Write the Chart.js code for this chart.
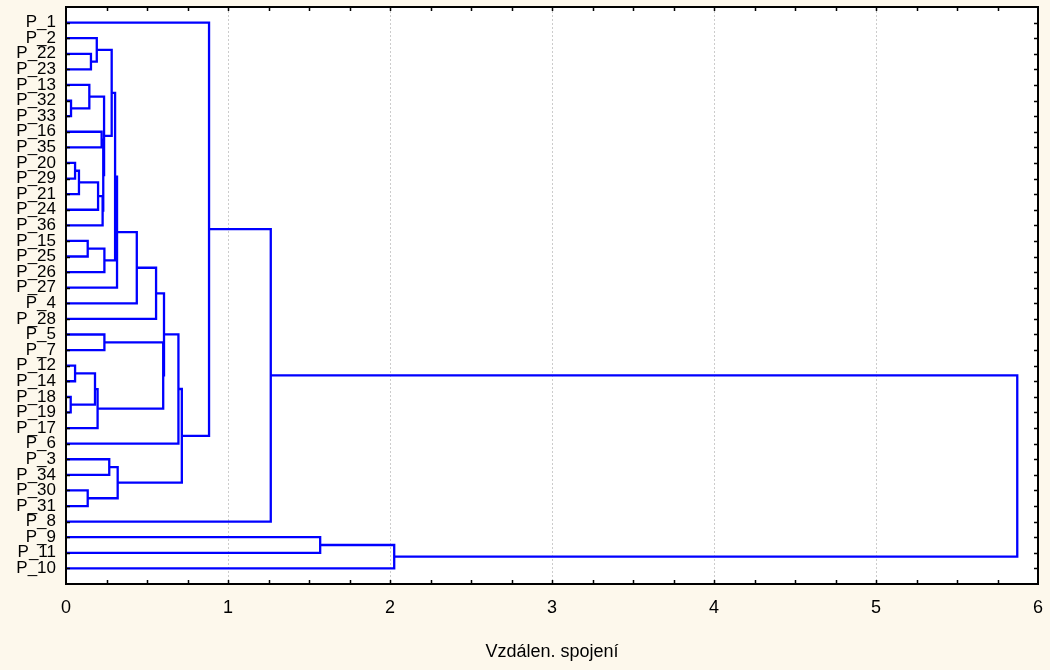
<!DOCTYPE html>
<html>
<head>
<meta charset="utf-8">
<script src="https://cdn.jsdelivr.net/npm/chart.js@4.4.1/dist/chart.umd.min.js"></script>
<style>
  html, body { margin: 0; padding: 0; background: #fdf8ec; }
  canvas { display: block; }
</style>
</head>
<body>
<canvas id="dendroChart" width="1050" height="670"></canvas>
<script>
// Leaves, top to bottom as they appear on the vertical axis
const leaves = ['P_1', 'P_2', 'P_22', 'P_23', 'P_13', 'P_32', 'P_33', 'P_16', 'P_35',
  'P_20', 'P_29', 'P_21', 'P_24', 'P_36', 'P_15', 'P_25', 'P_26', 'P_27', 'P_4', 'P_28',
  'P_5', 'P_7', 'P_12', 'P_14', 'P_18', 'P_19', 'P_17', 'P_6', 'P_3', 'P_34', 'P_30',
  'P_31', 'P_8', 'P_9', 'P_11', 'P_10'];

// Joins in order; 'cN' means the cluster created by join N
const linkLeft = ['P_32', 'P_18', 'P_20', 'P_12', 'c2', 'P_15', 'P_30', 'P_13', 'P_22', 'c3',
  'P_2', 'c9', 'c4', 'P_16', 'c12', 'c13', 'c7', 'c5', 'P_5', 'P_3',
  'c10', 'c20', 'c21', 'c19', 'c22', 'c24', 'c18', 'c25', 'c27', 'c28',
  'P_1', 'c30', 'P_9', 'c32', 'c31'];
const linkRight = ['P_33', 'P_19', 'P_29', 'P_14', 'P_21', 'P_25', 'P_31', 'c0', 'P_23', 'c1',
  'c8', 'P_17', 'P_24', 'P_35', 'P_36', 'c14', 'c15', 'P_26', 'P_7', 'P_34',
  'c16', 'c17', 'P_27', 'c6', 'P_4', 'P_28', 'c11', 'c26', 'P_6', 'c23',
  'c29', 'P_8', 'P_11', 'P_10', 'c33'];
const linkDist = [0.031, 0.029, 0.056, 0.056, 0.08, 0.134, 0.134, 0.144, 0.154, 0.179,
  0.19, 0.195, 0.198, 0.22, 0.226, 0.23, 0.235, 0.237, 0.237, 0.267,
  0.282, 0.303, 0.315, 0.319, 0.437, 0.556, 0.6, 0.605, 0.694, 0.715,
  0.883, 1.264, 1.569, 2.026, 5.872];

const xTicks = [0, 1, 2, 3, 4, 5, 6];
const xTitle = 'Vzdálen. spojení';

const LINE = '#0000ff';
const FONT = "'Liberation Sans', Arial, sans-serif";

// build the U-shaped links from the joins
const nodePos = {};
leaves.forEach(function (name, i) { nodePos[name] = { x: 0, y: i }; });

const datasets = linkDist.map(function (d, k) {
  const a = nodePos[linkLeft[k]];
  const b = nodePos[linkRight[k]];
  nodePos['c' + k] = { x: d, y: (a.y + b.y) / 2 };
  return {
    data: [{ x: a.x, y: a.y }, { x: d, y: a.y }, { x: d, y: b.y }, { x: b.x, y: b.y }],
    showLine: true,
    borderColor: LINE,
    borderWidth: 2.3,
    pointRadius: 0,
    tension: 0,
    fill: false
  };
});

// cream page, white plot, black frame with small inward ticks
const framePlugin = {
  id: 'frame',
  beforeDraw(chart) {
    const c = chart.ctx, a = chart.chartArea;
    c.save();
    c.fillStyle = '#fdf8ec';
    c.fillRect(0, 0, chart.width, chart.height);
    c.fillStyle = '#ffffff';
    c.fillRect(a.left, a.top, a.right - a.left, a.bottom - a.top);
    c.restore();
  },
  afterDraw(chart) {
    const c = chart.ctx, a = chart.chartArea;
    const xs = chart.scales.x, ys = chart.scales.y;
    c.save();
    c.strokeStyle = '#000';
    c.lineWidth = 1.5;
    c.beginPath();
    leaves.forEach(function (_, i) {
      const py = Math.round(ys.getPixelForValue(i)) + 0.5;
      c.moveTo(a.left, py); c.lineTo(a.left + 4, py);
      c.moveTo(a.right, py); c.lineTo(a.right - 4, py);
    });
    for (let v = 0.25; v < 6; v += 0.25) {
      const px = Math.round(xs.getPixelForValue(v)) + 0.5;
      c.moveTo(px, a.bottom); c.lineTo(px, a.bottom - 4);
      c.moveTo(px, a.top); c.lineTo(px, a.top + 4);
    }
    c.stroke();
    c.lineWidth = 2;
    c.strokeRect(a.left, a.top, a.right - a.left, a.bottom - a.top);
    c.restore();
  }
};

new Chart(document.getElementById('dendroChart'), {
  type: 'scatter',
  data: { datasets: datasets },
  plugins: [framePlugin],
  options: {
    responsive: false,
    animation: false,
    layout: { padding: { top: 7, right: 12, bottom: 0, left: 0 } },
    plugins: {
      legend: { display: false },
      tooltip: { enabled: false }
    },
    scales: {
      x: {
        type: 'linear',
        min: 0,
        max: 6,
        afterBuildTicks: function (scale) {
          scale.ticks = xTicks.map(function (v) { return { value: v }; });
        },
        afterFit: function (scale) {
          scale.height = 86;
          scale.paddingLeft = 0;
          scale.paddingRight = 0;
        },
        ticks: {
          color: '#000',
          font: { family: FONT, size: 18 },
          padding: 13
        },
        grid: {
          drawTicks: false,
          color: function (ctx) {
            const v = ctx.tick && ctx.tick.value;
            return (v === 0 || v === 6) ? 'rgba(0,0,0,0)' : '#cccccc';
          },
          lineWidth: 1
        },
        border: { display: false, dash: [2, 2] },
        title: {
          display: true,
          text: xTitle,
          color: '#000',
          font: { family: FONT, size: 18 },
          padding: { top: 0, bottom: 7 }
        }
      },
      y: {
        type: 'linear',
        reverse: true,
        min: -1,
        max: 36,
        afterBuildTicks: function (scale) {
          scale.ticks = leaves.map(function (_, i) { return { value: i }; });
        },
        afterFit: function (scale) {
          scale.width = 66;
          scale.paddingTop = 0;
          scale.paddingBottom = 0;
        },
        ticks: {
          autoSkip: false,
          color: '#000',
          font: { family: FONT, size: 17 },
          padding: 10,
          callback: function (v) { return leaves[v]; }
        },
        grid: { display: false, drawTicks: false },
        border: { display: false }
      }
    }
  }
});
</script>
</body>
</html>
